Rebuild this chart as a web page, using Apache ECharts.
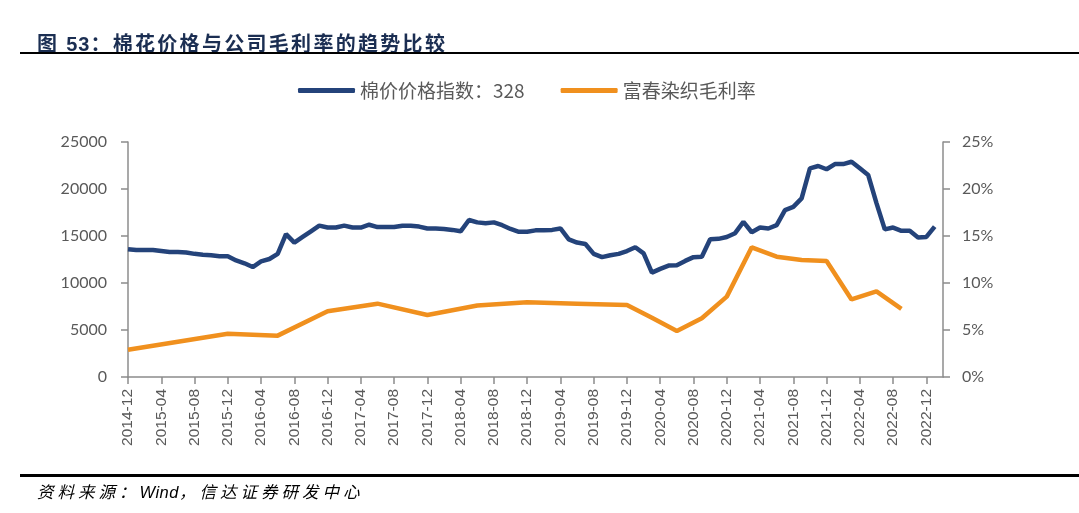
<!DOCTYPE html>
<html><head><meta charset="utf-8">
<script src="https://cdn.jsdelivr.net/npm/echarts@6/dist/echarts.min.js"></script>
<style>
html,body{margin:0;padding:0;width:1079px;height:513px;background:#fff;overflow:hidden;}
#chart{position:absolute;left:0;top:0;width:1079px;height:513px;}
#title{position:absolute;left:37px;top:28px;font-family:"Noto Sans CJK SC";font-weight:bold;font-size:20px;letter-spacing:2.3px;color:#1B2E52;white-space:nowrap;}
#title .num{font-family:"Liberation Sans",Arial;font-weight:bold;letter-spacing:1px;}
#rule1{position:absolute;left:20px;top:52px;width:1059px;height:2px;background:#000;}
#rule2{position:absolute;left:20px;top:474px;width:1059px;height:3px;background:#000;}
#src{position:absolute;left:37px;top:479px;font-family:"Noto Sans CJK SC";font-style:italic;font-size:16.5px;letter-spacing:4px;color:#000;white-space:nowrap;}
#src .en{font-family:"Liberation Sans",Arial;letter-spacing:0.5px;}
</style></head>
<body>
<div id="chart"></div>
<div id="title">图 <span class="num">53</span>：棉花价格与公司毛利率的趋势比较</div>
<div id="rule1"></div>
<div id="rule2"></div>
<div id="src">资料来源：<span class="en">Wind</span>，信达证券研发中心</div>
<script>
// Monthly categories 2014-12 .. 2023-02
var months = [];
(function(){ var y=2014,m=12; for(var i=0;i<99;i++){ months.push(y+'-'+(m<10?'0'+m:m)); m++; if(m>12){m=1;y++;} } })();

var seriesNames = ['棉价价格指数：328', '富春染织毛利率'];

// Cotton price index (monthly, 2014-12 .. 2023-01)
var cottonIndex = [
 13600,13500,13500,13500,13400,13300,13300,13250,13100,13000,12950,12850,
 12850,12400,12100,11700,12300,12550,13100,15200,14300,14900,15500,16100,
 15900,15900,16100,15900,15900,16200,15950,15950,15950,16100,16100,16000,
 15800,15800,15750,15650,15500,16700,16450,16350,16450,16150,15750,15450,
 15450,15600,15600,15650,15800,14650,14300,14150,13100,12750,12950,13100,
 13400,13800,13150,11100,11500,11850,11900,12350,12750,12800,14650,14700,
 14900,15300,16500,15400,15900,15800,16150,17750,18100,19000,22200,22450,
 22100,22650,22650,22900,22200,21500,18500,15700,15900,15550,15550,14850,
 14900,16000
];

// Gross margin (%), reported periods only
var marginDates = ['2014-12','2015-12','2016-06','2016-12','2017-06','2017-12','2018-06','2018-12','2019-06','2019-12','2020-03','2020-06','2020-09','2020-12','2021-03','2021-06','2021-09','2021-12','2022-03','2022-06','2022-09'];
var marginValues = [2.9,4.6,4.4,7.0,7.8,6.6,7.6,7.95,7.8,7.65,6.3,4.9,6.25,8.55,13.8,12.8,12.45,12.35,8.25,9.1,7.25];

var leftTicks = [0, 25000, 5000];
var rightTicks = [0, 25, 5];

var marginSeries = months.map(function(d){ var k = marginDates.indexOf(d); return k>=0 ? marginValues[k] : null; });

var chart = echarts.init(document.getElementById('chart'));
var axisCol = '#8C8C8C', labCol = '#595959';
chart.setOption({
  animation:false,
  grid:{left:128,right:136,top:142,bottom:136},
  legend:{
    left:298, top:81, itemGap:36, itemWidth:57, itemHeight:5, padding:0,
    icon:'roundRect',
    textStyle:{fontSize:19,color:labCol,fontFamily:'"Noto Sans CJK SC", Lato'},
    data:seriesNames
  },
  xAxis:{
    type:'category', data:months, boundaryGap:false,
    axisLine:{lineStyle:{color:axisCol,width:1.5}},
    axisTick:{interval:3,length:7,lineStyle:{color:axisCol,width:1.5}},
    axisLabel:{interval:3,rotate:90,fontSize:15.5,color:labCol,fontFamily:'"Liberation Sans", Arial',margin:12}
  },
  yAxis:[
    {type:'value',min:leftTicks[0],max:leftTicks[1],interval:leftTicks[2],
     axisLine:{show:true,lineStyle:{color:axisCol,width:1.5}},
     axisTick:{show:true,length:7,lineStyle:{color:axisCol,width:1.5}},
     splitLine:{show:false},
     axisLabel:{fontSize:16,color:labCol,fontFamily:'Lato',margin:21,formatter:function(v){return String(v);}}},
    {type:'value',min:rightTicks[0],max:rightTicks[1],interval:rightTicks[2],position:'right',
     axisLine:{show:true,lineStyle:{color:axisCol,width:1.5}},
     axisTick:{show:true,length:7,lineStyle:{color:axisCol,width:1.5}},
     splitLine:{show:false},
     axisLabel:{fontSize:16,color:labCol,fontFamily:'Lato',margin:19,formatter:'{value}%'}}
  ],
  series:[
    {name:seriesNames[0],type:'line',data:cottonIndex,yAxisIndex:0,showSymbol:false,symbol:'none',
     lineStyle:{color:'#24437A',width:4.5},itemStyle:{color:'#24437A'}},
    {name:seriesNames[1],type:'line',data:marginSeries,yAxisIndex:1,connectNulls:true,showSymbol:false,symbol:'none',
     lineStyle:{color:'#F0901E',width:4.5},itemStyle:{color:'#F0901E'}}
  ]
});
</script>
</body></html>
